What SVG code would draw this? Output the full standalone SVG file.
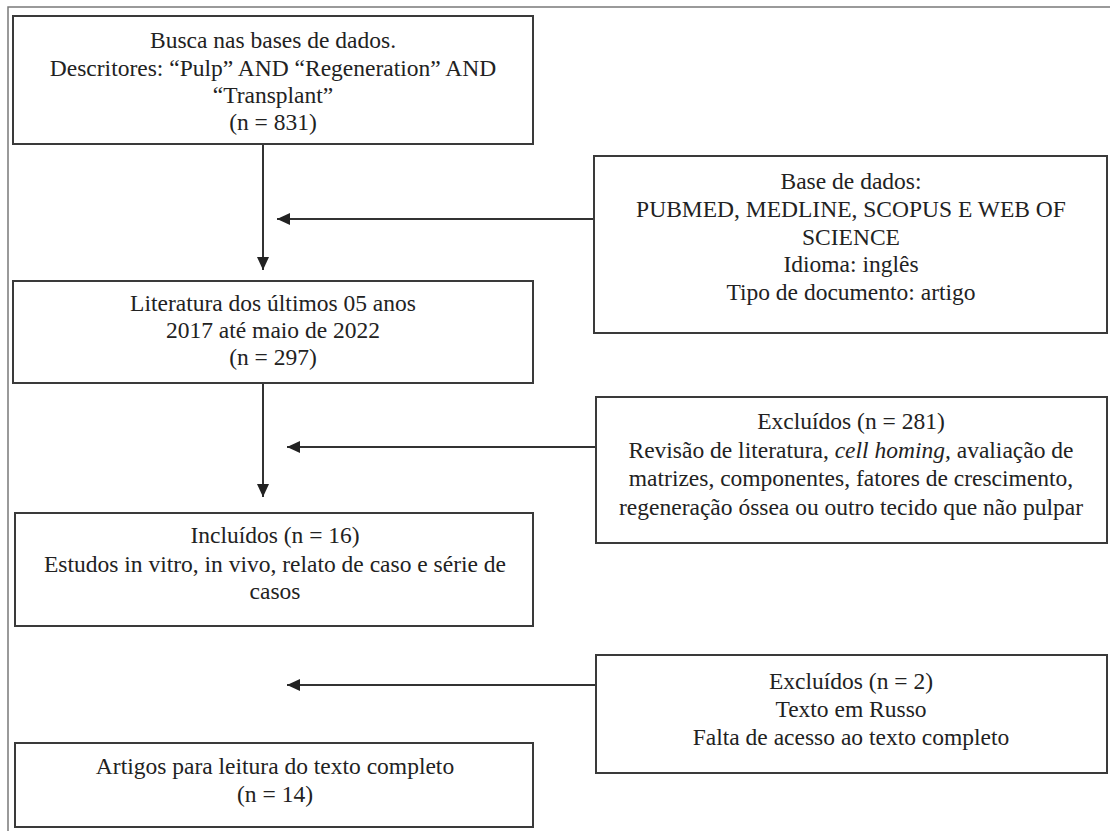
<svg xmlns="http://www.w3.org/2000/svg" width="1110" height="831" viewBox="0 0 1110 831">
  <defs>
    <style>
      .box { fill: #ffffff; stroke: #3a3a3a; stroke-width: 2; }
      .frame { fill: none; stroke: #7a7a7a; stroke-width: 1.5; }
      .conn { fill: none; stroke: #333333; stroke-width: 2; }
      text { font-family: "Liberation Serif", "Times New Roman", serif; font-size: 23.5px; fill: #222222; text-anchor: middle; }
      .it { font-style: italic; }
    </style>
    <marker id="arrow" markerUnits="userSpaceOnUse" markerWidth="14" markerHeight="14" viewBox="0 0 14 14" refX="13" refY="7" orient="auto">
      <path d="M0,1 L13,7 L0,13 Z" fill="#222222"/>
    </marker>
  </defs>
  <rect width="1110" height="831" fill="#ffffff"/>
  <path class="frame" d="M8,831 L8,7 L1110,7"/>

  <g id="connectors">
    <line class="conn" x1="263" y1="144" x2="263" y2="270" marker-end="url(#arrow)"/>
    <line class="conn" x1="594" y1="219" x2="277" y2="219" marker-end="url(#arrow)"/>
    <line class="conn" x1="263" y1="383" x2="263" y2="497" marker-end="url(#arrow)"/>
    <line class="conn" x1="596" y1="447" x2="287" y2="447" marker-end="url(#arrow)"/>
    <line class="conn" x1="596" y1="685" x2="287" y2="685" marker-end="url(#arrow)"/>
  </g>

  <g id="busca">
    <rect class="box" x="13" y="16" width="520" height="128"/>
    <text x="273" y="48">Busca nas bases de dados.</text>
    <text x="273" y="76">Descritores: “Pulp” AND “Regeneration” AND</text>
    <text x="273" y="103">“Transplant”</text>
    <text x="273" y="130">(n = 831)</text>
  </g>

  <g id="base-dados">
    <rect class="box" x="594" y="156" width="513" height="177"/>
    <text x="851" y="189">Base de dados:</text>
    <text x="851" y="217">PUBMED, MEDLINE, SCOPUS E WEB OF</text>
    <text x="851" y="245">SCIENCE</text>
    <text x="851" y="272">Idioma: inglês</text>
    <text x="851" y="300">Tipo de documento: artigo</text>
  </g>

  <g id="literatura">
    <rect class="box" x="13" y="281" width="520" height="102"/>
    <text x="273" y="311">Literatura dos últimos 05 anos</text>
    <text x="273" y="338">2017 até maio de 2022</text>
    <text x="273" y="365">(n = 297)</text>
  </g>

  <g id="excluidos-281">
    <rect class="box" x="596" y="397" width="511" height="146"/>
    <text x="851" y="429">Excluídos (n = 281)</text>
    <text x="851" y="458">Revisão de literatura, <tspan class="it">cell homing,</tspan> avaliação de</text>
    <text x="851" y="486">matrizes, componentes, fatores de crescimento,</text>
    <text x="851" y="515">regeneração óssea ou outro tecido que não pulpar</text>
  </g>

  <g id="incluidos">
    <rect class="box" x="15" y="513" width="518" height="113"/>
    <text x="275" y="543">Incluídos (n = 16)</text>
    <text x="275" y="572">Estudos in vitro, in vivo, relato de caso e série de</text>
    <text x="275" y="599">casos</text>
  </g>

  <g id="excluidos-2">
    <rect class="box" x="596" y="655" width="511" height="118"/>
    <text x="851" y="689">Excluídos (n = 2)</text>
    <text x="851" y="717">Texto em Russo</text>
    <text x="851" y="745">Falta de acesso ao texto completo</text>
  </g>

  <g id="artigos">
    <rect class="box" x="15" y="743" width="518" height="84"/>
    <text x="275" y="774">Artigos para leitura do texto completo</text>
    <text x="275" y="802">(n = 14)</text>
  </g>
</svg>
